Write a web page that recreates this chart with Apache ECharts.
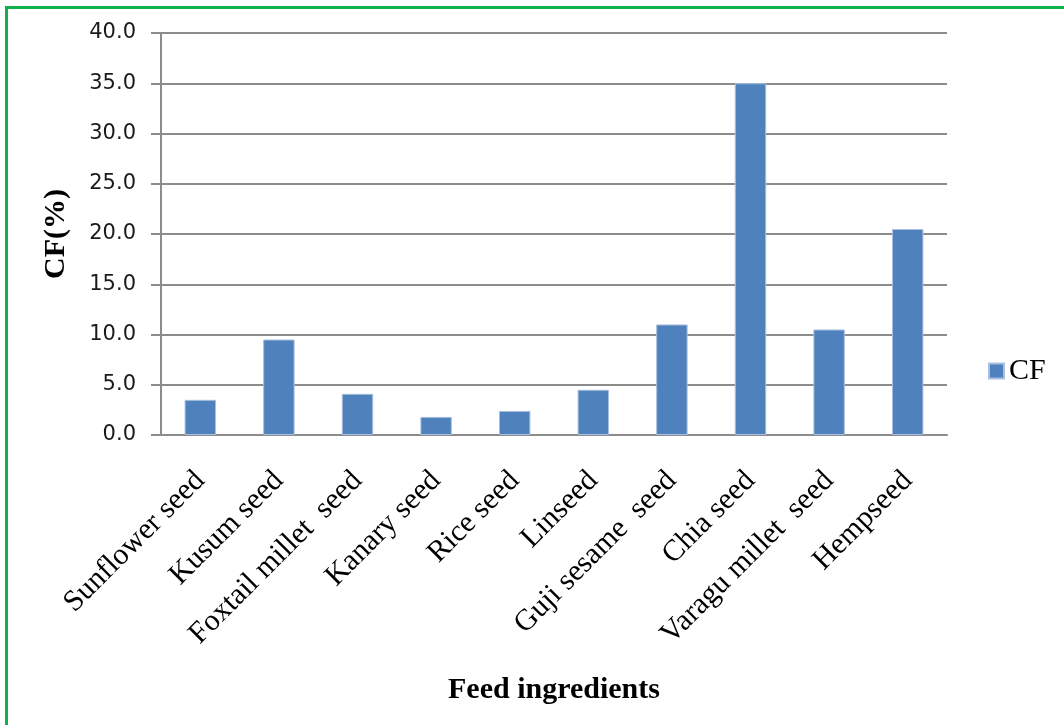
<!DOCTYPE html>
<html>
<head>
<meta charset="utf-8">
<title>CF (%) of feed ingredients</title>
<script src="https://cdn.jsdelivr.net/npm/echarts@6/dist/echarts.min.js"></script>
<style>
  html, body { margin: 0; padding: 0; background: #ffffff; }
  #frame {
    position: absolute; left: 5px; top: 6px; width: 1100px; height: 760px;
    border: 3px solid #12b04c; box-sizing: border-box;
  }
  #chart { position: absolute; left: 0; top: 0; width: 1064px; height: 725px; }
</style>
</head>
<body>
<div id="frame"></div>
<div id="chart"></div>
<script>
// Crude fibre content of each feed ingredient
const categories = [
  'Sunflower seed', 'Kusum seed', 'Foxtail millet  seed', 'Kanary seed', 'Rice seed',
  'Linseed', 'Guji sesame  seed', 'Chia seed', 'Varagu millet  seed', 'Hempseed'
];
const cfValues = [3.5, 9.5, 4.1, 1.8, 2.4, 4.5, 11.0, 35.0, 10.5, 20.5];
const seriesName = 'CF';
const yAxisTitle = 'CF(%)';
const xAxisTitle = 'Feed ingredients';

const serif = '"Liberation Serif", "Times New Roman", serif';
const sans = '"DejaVu Sans", Tahoma, sans-serif';
const gridGray = '#8c8c8c';

const chart = echarts.init(document.getElementById('chart'), null, { renderer: 'canvas' });
chart.setOption({
  animation: false,
  backgroundColor: 'transparent',
  grid: { left: 161, right: 117, top: 33, bottom: 290, containLabel: false },
  legend: {
    data: [seriesName],
    left: 988, top: 356,
    padding: 0,
    itemWidth: 15, itemHeight: 15,
    icon: 'rect',
    textStyle: { fontFamily: serif, fontSize: 30, color: '#000' }
  },
  xAxis: {
    type: 'category',
    data: categories,
    name: xAxisTitle,
    nameLocation: 'middle',
    nameGap: 240,
    nameTextStyle: { fontFamily: serif, fontSize: 30, fontWeight: 'bold', color: '#000' },
    axisLine: { show: true, lineStyle: { color: gridGray, width: 2 } },
    axisTick: { show: false },
    axisLabel: {
      interval: 0,
      rotate: 45,
      margin: 41,
      fontFamily: serif, fontSize: 30, color: '#000'
    }
  },
  yAxis: {
    type: 'value',
    min: 0, max: 40, interval: 5,
    name: yAxisTitle,
    nameLocation: 'middle',
    nameRotate: 90,
    nameGap: 90,
    nameTextStyle: { fontFamily: serif, fontSize: 30, fontWeight: 'bold', color: '#000' },
    axisLine: { show: true, lineStyle: { color: gridGray, width: 2 } },
    axisTick: { show: true, length: 10, inside: false, lineStyle: { color: gridGray, width: 2 } },
    splitLine: { show: true, lineStyle: { color: gridGray, width: 2 } },
    axisLabel: {
      margin: 25,
      fontFamily: sans, fontSize: 21, color: '#1a1a1a',
      formatter: v => v.toFixed(1)
    }
  },
  series: [{
    name: seriesName,
    type: 'bar',
    data: cfValues,
    barCategoryGap: '60%',
    itemStyle: { color: '#4f81bd', borderColor: '#a9c0e0', borderWidth: 1 }
  }]
});
</script>
</body>
</html>
